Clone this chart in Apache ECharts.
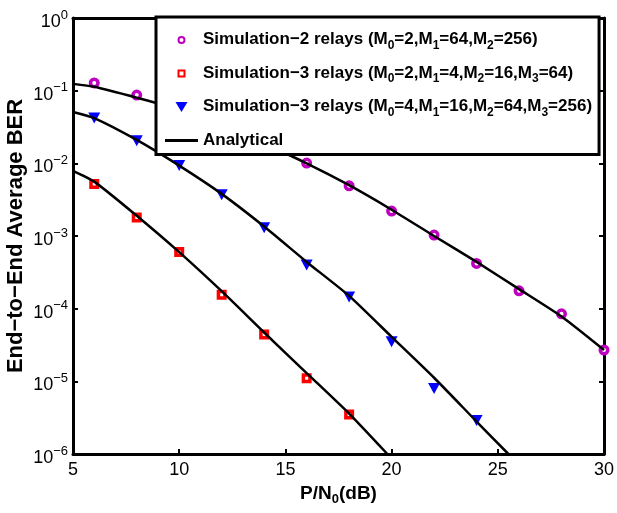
<!DOCTYPE html>
<html lang="en">
<head>
    <meta charset="UTF-8">
    <title>End-to-End BER</title>
    <script src="https://cdn.jsdelivr.net/npm/echarts@6/dist/echarts.min.js"></script>
    <style>
        body { margin: 0; background: #fff; }
        #chart { width: 617px; height: 513px; }
    </style>
</head>
<body>
    <div id="chart"></div>
    <script type="text/javascript">
        // simulation points, x in dB
        var sim2_x = [6, 8, 10, 12, 14, 16, 18, 20, 22, 24, 26, 28, 30];
        var sim2_y = [1.28e-1, 8.7e-2, 5.6e-2, 3.3e-2, 1.9e-2, 1.01e-2, 4.9e-3, 2.2e-3, 1.03e-3, 4.2e-4, 1.76e-4, 8.5e-5, 2.7e-5];
        var sim3a_x = [6, 8, 10, 12, 14, 16, 18];
        var sim3a_y = [5.2e-3, 1.8e-3, 6.0e-4, 1.55e-4, 4.4e-5, 1.1e-5, 3.5e-6];
        var sim3b_x = [6, 8, 10, 12, 14, 16, 18, 20, 22, 24];
        var sim3b_y = [4.2e-2, 2.04e-2, 9.3e-3, 3.7e-3, 1.3e-3, 4.0e-4, 1.45e-4, 3.5e-5, 8.0e-6, 2.9e-6];

        // analytical curves
        var ana2_x = [5, 6, 8, 10, 12, 14, 16, 18, 20, 22, 24, 26, 28, 30];
        var ana2_y = [1.24e-1, 1.13e-1, 8.0e-2, 5.5e-2, 3.3e-2, 1.86e-2, 1.0e-2, 5.0e-3, 2.3e-3, 1.0e-3, 4.4e-4, 1.86e-4, 7.8e-5, 2.7e-5];
        var ana3a_x = [5, 6, 8, 10, 12, 14, 16, 18, 19.8];
        var ana3a_y = [7.9e-3, 5.6e-3, 1.9e-3, 6.0e-4, 1.74e-4, 4.7e-5, 1.3e-5, 3.6e-6, 1.0e-6];
        var ana3b_x = [5, 6, 8, 10, 12, 14, 16, 18, 20, 22, 24, 25.5];
        var ana3b_y = [5.1e-2, 4.2e-2, 2.1e-2, 9.3e-3, 3.8e-3, 1.35e-3, 4.4e-4, 1.5e-4, 4.1e-5, 1.12e-5, 2.8e-6, 1.0e-6];

        var x_ticks = [5, 10, 15, 20, 25, 30];

        var legend_text = {
            'sim2': '{t|Simulation\u22122 relays (M}{s|0}{t|=2,M}{s|1}{t|=64,M}{s|2}{t|=256)}',
            'sim3a': '{t|Simulation\u22123 relays (M}{s|0}{t|=2,M}{s|1}{t|=4,M}{s|2}{t|=16,M}{s|3}{t|=64)}',
            'sim3b': '{t|Simulation\u22123 relays (M}{s|0}{t|=4,M}{s|1}{t|=16,M}{s|2}{t|=64,M}{s|3}{t|=256)}',
            'Analytical': '{t|Analytical}'
        };

        var pairs = function(xs, ys){
            var out = [];
            for(var i = 0; i < xs.length; i++){
                out.push([xs[i], ys[i]]);
            }
            return out;
        };

        var font = 'Liberation Sans, Arial, sans-serif';
        var frame = {show: true, onZero: false, lineStyle: {color: '#000', width: 3}};
        var ticks = {show: true, inside: true, length: 5, lineStyle: {color: '#000', width: 2}};

        // legend icons: the extra moveTo points keep the 33x11 box so shapes are not stretched
        var icon_box = 'path://M0,0 M33,11 ';
        var legend_icons = {
            ring: icon_box + 'M13.5,6 A3,3 0 1,0 19.5,6 A3,3 0 1,0 13.5,6 Z',
            rect: icon_box + 'M13.5,3 L19.5,3 L19.5,9 L13.5,9 Z',
            tri: icon_box + 'M10.5,1 L22.5,1 L16.5,11 Z',
            bar: icon_box + 'M0,4.5 L33,4.5 L33,7.5 L0,7.5 Z'
        };

        var myChart = echarts.init(document.getElementById('chart'));
        myChart.setOption({
            animation: false,
            grid: {left: 73, right: 13, top: 18, bottom: 59, outerBoundsMode: 'none', containLabel: false},
            legend: {
                orient: 'vertical',
                left: 156,
                top: 17,
                padding: [14, 7, 6, 8],
                itemGap: 13,
                itemWidth: 33,
                itemHeight: 11,
                symbolRotate: 0,
                backgroundColor: '#fff',
                borderColor: '#000',
                borderWidth: 3,
                data: [
                    {name: 'sim2', icon: legend_icons.ring},
                    {name: 'sim3a', icon: legend_icons.rect},
                    {name: 'sim3b', icon: legend_icons.tri},
                    {name: 'Analytical', icon: legend_icons.bar, itemStyle: {color: '#000', borderWidth: 0}}
                ],
                formatter: function(name){ return legend_text[name]; },
                textStyle: {
                    fontFamily: font,
                    rich: {
                        t: {fontSize: 17, fontWeight: 'bold', color: '#000', fontFamily: font, lineHeight: 20},
                        s: {fontSize: 12, fontWeight: 'bold', color: '#000', fontFamily: font, padding: [12, 0, 0, 0]}
                    }
                }
            },
            xAxis: [
                {
                    type: 'value',
                    min: 5,
                    max: 30,
                    interval: 5,
                    name: '{n|P/N}{s|0}{n|(dB)}',
                    nameLocation: 'middle',
                    nameGap: 27,
                    nameMoveOverlap: false,
                    nameTextStyle: {
                        rich: {
                            n: {fontSize: 19, fontWeight: 'bold', color: '#000', fontFamily: font},
                            s: {fontSize: 13, fontWeight: 'bold', color: '#000', fontFamily: font, padding: [12, 0, 0, 0]}
                        }
                    },
                    axisLine: frame,
                    axisTick: ticks,
                    splitLine: {show: false},
                    axisLabel: {
                        fontSize: 18, color: '#000', fontFamily: font, margin: 7,
                        formatter: function(v){ return x_ticks.indexOf(v) >= 0 ? String(v) : ''; }
                    }
                },
                {
                    type: 'value',
                    position: 'top',
                    min: 5,
                    max: 30,
                    interval: 5,
                    axisLine: frame,
                    axisTick: ticks,
                    splitLine: {show: false},
                    axisLabel: {show: false}
                }
            ],
            yAxis: [
                {
                    type: 'log',
                    logBase: 10,
                    min: 1e-6,
                    max: 1,
                    name: 'End\u2212to\u2212End Average BER',
                    nameLocation: 'middle',
                    nameGap: 46,
                    nameMoveOverlap: false,
                    nameTextStyle: {fontSize: 22, fontWeight: 'bold', color: '#000', fontFamily: font},
                    axisLine: frame,
                    axisTick: ticks,
                    splitLine: {show: false},
                    axisLabel: {
                        margin: 5,
                        formatter: function(v){
                            var e = Math.round(Math.log10(v));
                            return '{b|10}{e|' + (e < 0 ? '\u2212' + (-e) : e) + '}';
                        },
                        rich: {
                            b: {fontSize: 18, color: '#000', fontFamily: font, padding: [8, 0, 0, 0]},
                            e: {fontSize: 13, color: '#000', fontFamily: font, padding: [0, 0, 6, 0]}
                        }
                    }
                },
                {
                    type: 'log',
                    logBase: 10,
                    min: 1e-6,
                    max: 1,
                    position: 'right',
                    axisLine: frame,
                    axisTick: ticks,
                    splitLine: {show: false},
                    axisLabel: {show: false}
                }
            ],
            series: [
                {
                    name: 'Analytical',
                    type: 'line',
                    data: pairs(ana2_x, ana2_y),
                    smooth: 0.2,
                    symbol: 'none',
                    lineStyle: {color: '#000', width: 2.5},
                    itemStyle: {color: '#000'}
                },
                {
                    name: 'Analytical',
                    type: 'line',
                    data: pairs(ana3a_x, ana3a_y),
                    smooth: 0.2,
                    symbol: 'none',
                    lineStyle: {color: '#000', width: 2.5},
                    itemStyle: {color: '#000'}
                },
                {
                    name: 'Analytical',
                    type: 'line',
                    data: pairs(ana3b_x, ana3b_y),
                    smooth: 0.2,
                    symbol: 'none',
                    lineStyle: {color: '#000', width: 2.5},
                    itemStyle: {color: '#000'}
                },
                {
                    name: 'sim2',
                    type: 'scatter',
                    data: pairs(sim2_x, sim2_y),
                    symbol: 'circle',
                    symbolSize: 7.5,
                    itemStyle: {color: '#fff', borderColor: '#bf00bf', borderWidth: 3.5, opacity: 1}
                },
                {
                    name: 'sim3a',
                    type: 'scatter',
                    data: pairs(sim3a_x, sim3a_y),
                    symbol: 'rect',
                    symbolSize: 6.5,
                    itemStyle: {color: '#fff', borderColor: '#ff0000', borderWidth: 3.5, opacity: 1}
                },
                {
                    name: 'sim3b',
                    type: 'scatter',
                    data: pairs(sim3b_x, sim3b_y),
                    symbol: 'triangle',
                    symbolRotate: 180,
                    symbolSize: [12, 11],
                    itemStyle: {color: '#0000ff', opacity: 1}
                }
            ]
        });
    </script>
</body>
</html>
